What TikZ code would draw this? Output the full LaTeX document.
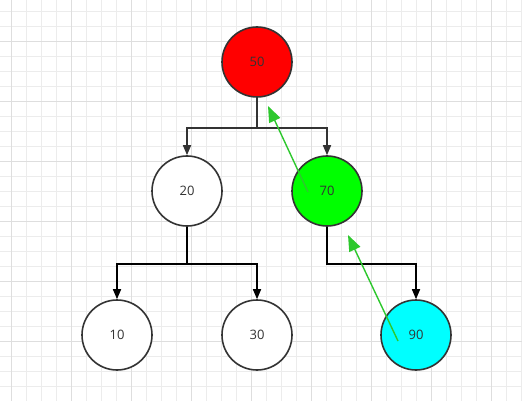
\documentclass[tikz,border=0pt]{standalone}
\usepackage{fontspec}
\setmainfont{Open Sans}
\usetikzlibrary{arrows.meta}
\definecolor{minorgrid}{RGB}{236,236,236}
\definecolor{majorgrid}{RGB}{222,222,222}
\definecolor{edgegray}{RGB}{51,51,51}
\definecolor{arrowgreen}{RGB}{45,200,45}
\definecolor{nodered}{RGB}{255,0,0}
\definecolor{nodegreen}{RGB}{0,255,0}
\definecolor{nodecyan}{RGB}{0,255,255}
\tikzset{
  treenode/.style={circle, draw=edgegray, line width=1.6pt, minimum size=70pt, inner sep=0pt, font=\fontsize{13}{15}\selectfont, text=edgegray},
  treeedge/.style={line width=1.6pt, -{Triangle[length=10pt,width=8pt]}},
  backedge/.style={draw=arrowgreen, line width=1.4pt, -{Triangle[length=16pt,width=12pt]}}
}
\begin{document}
\begin{tikzpicture}[x=1pt,y=-1pt]
\useasboundingbox (0,0) rectangle (522,401);
\fill[white] (0,0) rectangle (522,401);
% grid
\foreach \k in {0,...,34} {\draw[minorgrid, line width=0.8pt] ({11+15*\k},0) -- ({11+15*\k},401);}
\foreach \k in {0,...,26} {\draw[minorgrid, line width=0.8pt] (0,{11+15*\k}) -- (522,{11+15*\k});}
\foreach \k in {0,...,8} {\draw[majorgrid, line width=0.8pt] ({11+60*\k},0) -- ({11+60*\k},401);}
\foreach \k in {0,...,6} {\draw[majorgrid, line width=0.8pt] (0,{41+60*\k}) -- (522,{41+60*\k});}
% nodes
\node[treenode, fill=nodered] (n50) at (257,62) {50};
\node[treenode, fill=white] (n20) at (187,191) {20};
\node[treenode, fill=nodegreen] (n70) at (327,191) {70};
\node[treenode, fill=white] (n10) at (117,335) {10};
\node[treenode, fill=white] (n30) at (257,335) {30};
\node[treenode, fill=nodecyan] (n90) at (416,335) {90};
% tree connectors
\draw[treeedge, draw=edgegray] (n50.south) -- ++(0,30) -| (n20.north);
\draw[treeedge, draw=edgegray] (n50.south) -- ++(0,30) -| (n70.north);
\draw[treeedge, draw=black] (n20.south) -- ++(0,37) -| (n10.north);
\draw[treeedge, draw=black] (n20.south) -- ++(0,37) -| (n30.north);
\draw[treeedge, draw=black] (n70.south) -- ++(0,37) -| (n90.north);
% green back arrows
\coordinate (g1s) at (308,192);
\coordinate (g1e) at (268,106);
\coordinate (g2s) at (398,341);
\coordinate (g2e) at (348,235);
\draw[backedge] (g1s) -- (g1e);
\draw[backedge] (g2s) -- (g2e);
\end{tikzpicture}
\end{document}
